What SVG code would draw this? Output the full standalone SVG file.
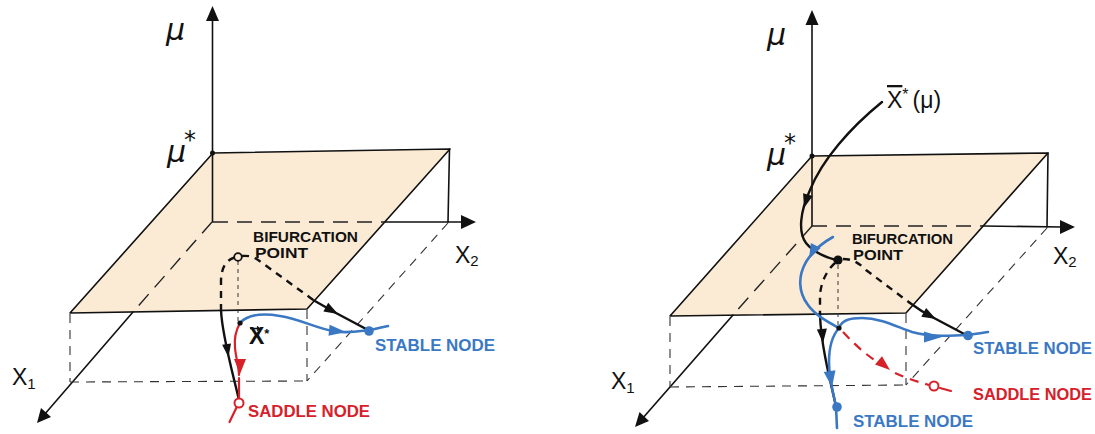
<svg xmlns="http://www.w3.org/2000/svg" width="1095" height="434" viewBox="0 0 1095 434">
<style>
.axis{stroke:#111;stroke-width:1.6;fill:none;stroke-linecap:round}
.hid{stroke:#222;stroke-width:1.4;fill:none;stroke-dasharray:15 9}
.thin{stroke:#333;stroke-width:1.1;fill:none;stroke-dasharray:9 7}
.proj{stroke:#333;stroke-width:1;fill:none;stroke-dasharray:4 4}
.plane{fill:#FCEBD4;stroke:#111;stroke-width:1.6;stroke-linejoin:round}
.ah{fill:#111}
.blk{stroke:#111;stroke-width:2.4;fill:none;stroke-linecap:round}
.blkd{stroke:#111;stroke-width:2.4;fill:none;stroke-dasharray:7 6}
.blu{stroke:#3B78C3;stroke-width:2.6;fill:none;stroke-linecap:round}
.red{stroke:#D6202A;stroke-width:2.2;fill:none;stroke-linecap:round}
.redd{stroke:#D6202A;stroke-width:2.2;fill:none;stroke-dasharray:9 7}
.bfill{fill:#3B78C3}
.rfill{fill:#D6202A}
.lab{font-family:"Liberation Sans",Arial,sans-serif;font-weight:bold;font-size:14px}
.nlab{font-family:"Liberation Sans",Arial,sans-serif;font-weight:bold;font-size:16px}
.ax{font-family:"Liberation Sans",Arial,sans-serif;font-size:23px;fill:#111}
.mu{font-family:"DejaVu Sans",sans-serif;font-style:italic;font-size:30px;fill:#111}
</style>

<!-- LEFT PANEL -->
<g id="left-axes">
  <polygon class="plane" points="213,153 450,149 307,309 70,313"/>
  <line class="axis" x1="212.5" y1="222" x2="212.5" y2="18"/>
  <polygon class="ah" points="212.5,6 206,21 219,21"/>
  <line class="hid" x1="213" y1="222" x2="386" y2="222"/>
  <line class="axis" x1="386" y1="222" x2="463" y2="222"/>
  <polygon class="ah" points="476,222 461,215 461,229"/>
  <line class="hid" x1="212" y1="222" x2="133" y2="312"/>
  <line class="axis" x1="133" y1="312" x2="44" y2="415"/>
  <polygon class="ah" points="37,423 51,417 41,408"/>
  <line class="axis" x1="449.5" y1="149" x2="448" y2="222"/>
  <line class="thin" x1="307" y1="310" x2="307" y2="381"/>
  <line class="thin" x1="70" y1="314" x2="70" y2="382"/>
  <line class="thin" x1="70" y1="382" x2="307" y2="381"/>
  <line class="thin" x1="448" y1="223" x2="307" y2="381"/>
  <circle cx="212.5" cy="153" r="2.5" fill="#111"/>
  <text class="mu" x="166" y="40">μ</text>
  <text class="mu" x="167" y="162">μ<tspan font-size="24" font-style="normal" dx="-2" dy="-14">*</tspan></text>
  <text class="ax" x="455" y="263">X<tspan font-size="15" dy="3">2</tspan></text>
  <text class="ax" x="12" y="385">X<tspan font-size="15" dy="4">1</tspan></text>
</g>

<g id="left-connectors">
  <line class="proj" x1="238" y1="261" x2="238" y2="321"/>
  <path class="blkd" d="M234.5,257.5 C226,260 221,268 221,282 L221,310"/>
  <path class="blk" d="M221,310 C222,335 232,370 238.5,398"/>
  <polygon class="ah" points="228.5,357 231,343.4 222.1,344.8"/>
  <path class="blkd" d="M242,256 C252,255 257,259 263,263.5 L314,300.5"/>
  <path class="blk" d="M314,300.5 C322,305 329,309 336,313 L368,330"/>
  <polygon class="ah" points="338,314 328.2,302.8 323.4,311.6"/>
  <path class="blu" d="M240,323 C248,314 262,313 280,316 C300,319 315,328 335,331.5 C350,333.5 360,331 369,330 C376,329 382,327 388,326"/>
  <polygon class="bfill" points="346,332 329.6,324.8 328.5,335.8"/>
  <path class="red" d="M240,323 C236,330 234,338 235,348 C236,358 239,368 239,375"/>
  <path class="red" d="M239,378 L239,398"/>
  <polygon class="rfill" points="240,374 246,359 234,359"/>
  <path class="red" d="M236.5,407.5 L229.5,422"/>
</g>

<g id="left-bifurcation-point">
  <circle cx="238" cy="257" r="3.8" fill="#FCEBD4" stroke="#111" stroke-width="1.8"/>
  <text class="lab" x="253" y="242" textLength="105" lengthAdjust="spacingAndGlyphs" fill="#111">BIFURCATION</text>
  <text class="lab" x="255" y="258" textLength="53" lengthAdjust="spacingAndGlyphs" fill="#111">POINT</text>
</g>

<g id="left-xstar">
  <circle cx="240" cy="323" r="2.6" fill="#111"/>
  <text class="ax" x="249" y="344" font-size="17" font-weight="bold">X<tspan font-size="13" dy="-6">*</tspan></text>
  <path d="M250,328.5 L259,328.5 M257,326.5 L259.5,328.5 L257,330.5" stroke="#111" stroke-width="1.4" fill="none"/>
</g>

<g id="left-stable-node">
  <circle cx="369" cy="331" r="4.8" class="bfill"/>
  <text class="nlab" x="375" y="351" textLength="120" lengthAdjust="spacingAndGlyphs" fill="#3B78C3">STABLE NODE</text>
</g>

<g id="left-saddle-node">
  <circle cx="239" cy="403" r="4.5" fill="#fff" stroke="#D6202A" stroke-width="2"/>
  <text class="nlab" x="248" y="417" textLength="122" lengthAdjust="spacingAndGlyphs" fill="#D6202A">SADDLE NODE</text>
</g>

<!-- RIGHT PANEL -->
<g id="right-axes">
  <polygon class="plane" points="812,156 1048,153 906,313 670,316"/>
  <line class="axis" x1="812" y1="226" x2="812" y2="22"/>
  <polygon class="ah" points="812,10 805.5,25 818.5,25"/>
  <line class="hid" x1="812" y1="226" x2="983" y2="226"/>
  <line class="axis" x1="983" y1="226" x2="1062" y2="227"/>
  <polygon class="ah" points="1075,227 1060,220 1060,234"/>
  <line class="hid" x1="812" y1="226" x2="733" y2="315"/>
  <line class="axis" x1="733" y1="315" x2="642" y2="419"/>
  <polygon class="ah" points="635,427 649,421 639.5,412"/>
  <line class="axis" x1="1048" y1="153" x2="1047" y2="227"/>
  <line class="thin" x1="906" y1="314" x2="906" y2="385"/>
  <line class="thin" x1="670" y1="317" x2="670" y2="387"/>
  <line class="thin" x1="670" y1="387" x2="906" y2="385"/>
  <line class="thin" x1="1047" y1="228" x2="906" y2="385"/>
  <circle cx="812" cy="156" r="2.5" fill="#111"/>
  <text class="mu" x="767" y="45">μ</text>
  <text class="mu" x="767" y="165">μ<tspan font-size="24" font-style="normal" dx="-2" dy="-14">*</tspan></text>
  <text class="ax" x="1053" y="264">X<tspan font-size="15" dy="3">2</tspan></text>
  <text class="ax" x="611" y="389">X<tspan font-size="15" dy="4">1</tspan></text>
</g>

<g id="right-connectors">
  <line class="proj" x1="838" y1="265" x2="838" y2="326"/>
  <path class="blk" d="M882,102 C850,128 822,160 810,190 C800,212 798,232 806,243 C813,252 825,257 836,260"/>
  <polygon class="ah" points="804,208 812.7,196 803.1,193.2"/>
  <path class="blkd" d="M843,259 C852,259 858,262 866,270 L910,303"/>
  <path class="blk" d="M910,303 C918,309 926,314 934,318 L968,336"/>
  <polygon class="ah" points="936,319 926.1,307.9 921.3,316.7"/>
  <path class="blkd" d="M835,263 C827,270 821,282 820,295 L820,315"/>
  <path class="blk" d="M820,315 C821,345 830,380 836,406"/>
  <polygon class="ah" points="823,343 826.9,328.6 816.9,329.4"/>
  <path class="blu" d="M833,237 C822,243 812,252 806,262 C798,276 798,292 808,305 C815,315 828,322 839,328"/>
  <polygon class="bfill" points="809,259 820.7,248.1 810.9,243.1"/>
  <path class="blu" d="M839,328 C842,320 850,318 862,318 C880,318 895,326 912,332 C930,337 950,336 968,335 C975,334 982,333 988,332"/>
  <polygon class="bfill" points="942,337 924,331.5 924,342.5"/>
  <path class="blu" d="M839,328 C832,336 829,348 829,362 C829,380 834,395 836,407 L837,428"/>
  <polygon class="bfill" points="832,387 835.5,370.3 823.7,372.1"/>
  <path class="redd" d="M843,332 C858,348 870,358 884,366"/>
  <polygon class="rfill" points="890,370 882,356.2 875,364.6"/>
  <path class="redd" d="M895,373 C906,378 918,382 929,385"/>
  <path class="red" d="M940,388 L951,391"/>
</g>

<g id="right-bifurcation-point">
  <circle cx="838" cy="260" r="4.6" fill="#111"/>
  <text class="lab" x="852" y="244" textLength="101" lengthAdjust="spacingAndGlyphs" fill="#111">BIFURCATION</text>
  <text class="lab" x="853" y="260" textLength="50" lengthAdjust="spacingAndGlyphs" fill="#111">POINT</text>
</g>

<g id="right-xstar-label">
  <text class="ax" x="887" y="108" font-size="24"><tspan text-decoration="overline">X</tspan><tspan font-size="16" dy="-8">*</tspan><tspan dx="4" dy="8">(μ)</tspan></text>
</g>

<g id="right-xstar">
  <circle cx="839" cy="328" r="2.6" fill="#111"/>
</g>

<g id="right-stable-node-1">
  <circle cx="968" cy="335.5" r="4.8" class="bfill"/>
  <text class="nlab" x="973" y="354" textLength="119" lengthAdjust="spacingAndGlyphs" fill="#3B78C3">STABLE NODE</text>
</g>

<g id="right-saddle-node">
  <circle cx="934" cy="386" r="4.5" fill="#fff" stroke="#D6202A" stroke-width="2"/>
  <text class="nlab" x="973" y="400" textLength="119" lengthAdjust="spacingAndGlyphs" fill="#D6202A">SADDLE NODE</text>
</g>

<g id="right-stable-node-2">
  <circle cx="837" cy="407" r="4.8" class="bfill"/>
  <text class="nlab" x="853" y="427" textLength="120" lengthAdjust="spacingAndGlyphs" fill="#3B78C3">STABLE NODE</text>
</g>
</svg>
